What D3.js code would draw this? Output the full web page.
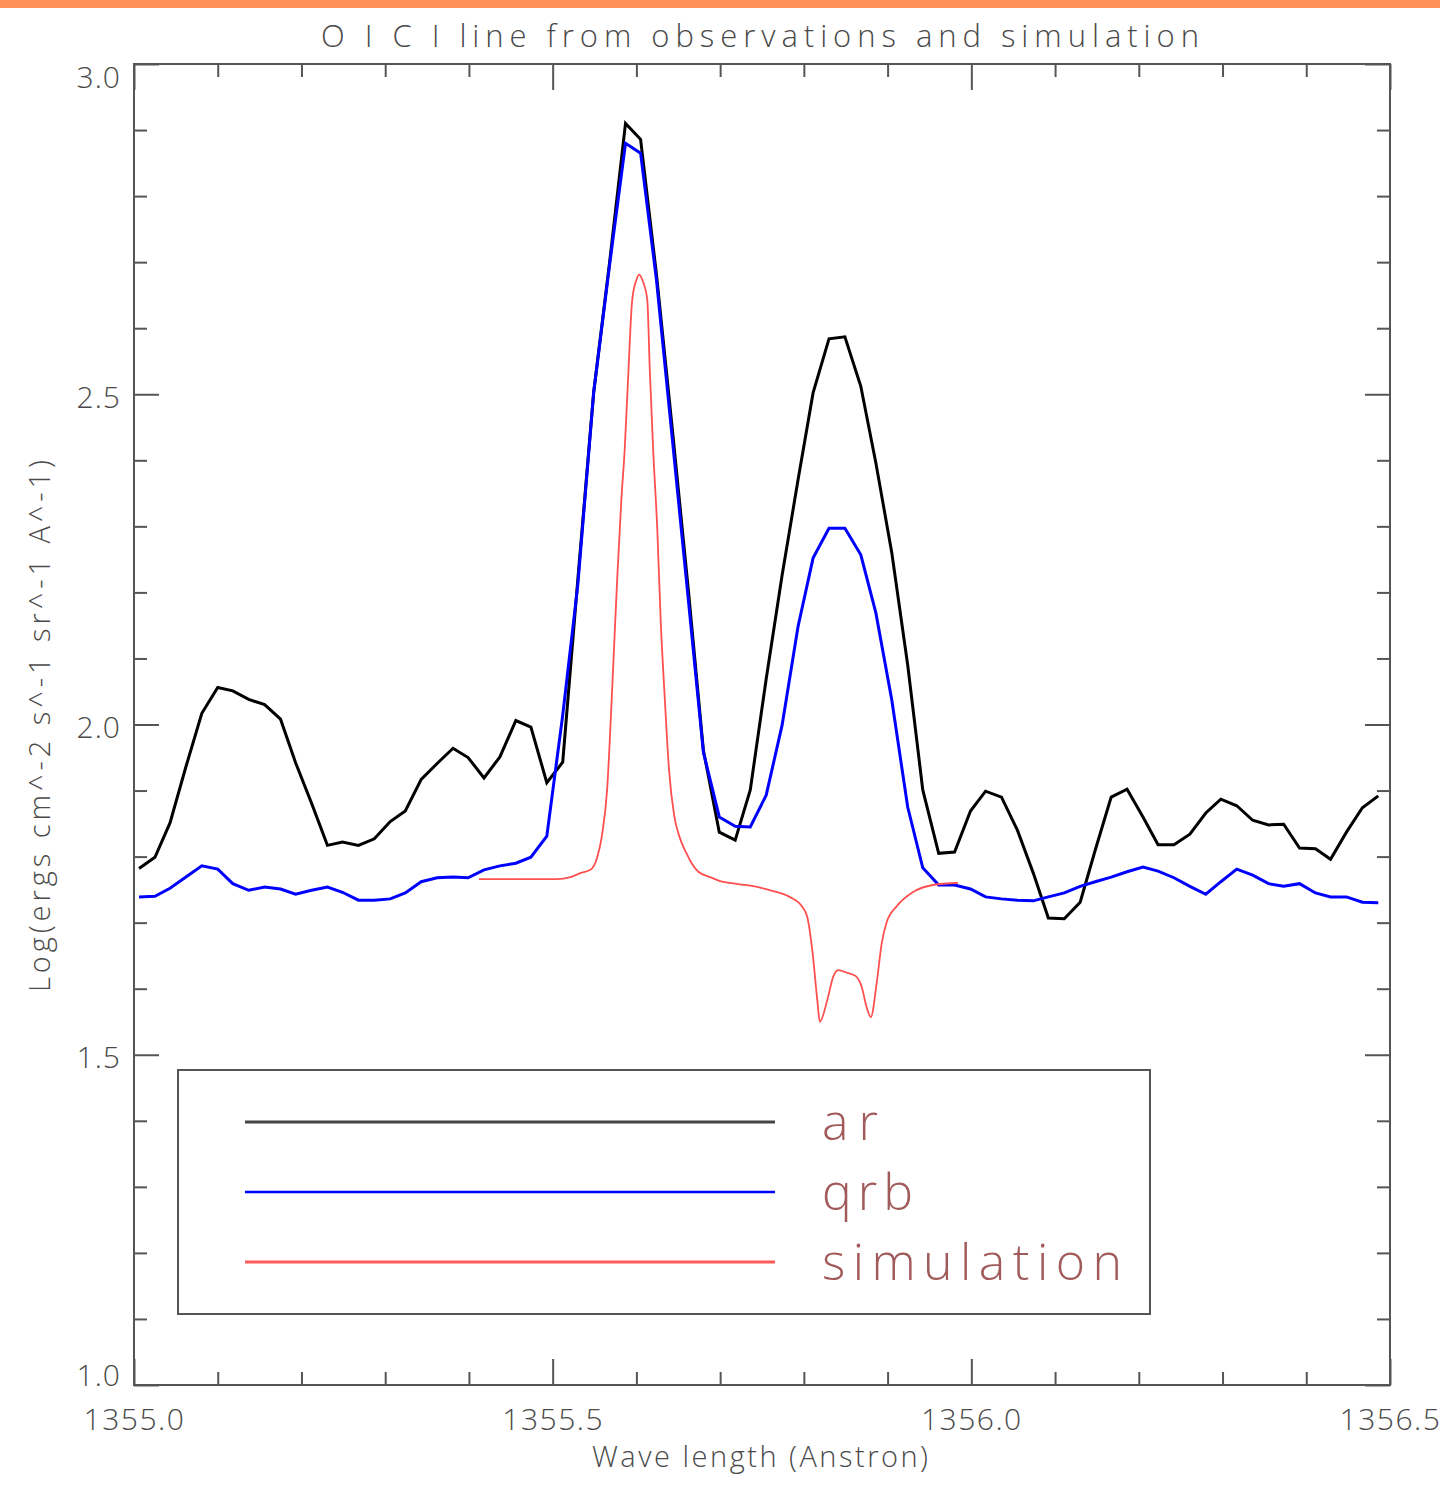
<!DOCTYPE html>
<html>
<head>
<meta charset="utf-8">
<script src="https://cdn.jsdelivr.net/npm/d3@7"></script>
<style>
  body { margin: 0; background: #fff; }
  svg text { font-family: "Open Sans", "DejaVu Sans", sans-serif; font-weight: 300; }
</style>
</head>
<body>
<script>
// wavelength grid of the observed spectra (Angstrom)
var obsWave = [
  1355.006, 1355.025, 1355.043, 1355.062, 1355.081, 1355.100, 1355.118, 1355.137, 1355.156, 1355.175,
  1355.193, 1355.212, 1355.231, 1355.249, 1355.268, 1355.287, 1355.306, 1355.324, 1355.343, 1355.362,
  1355.381, 1355.399, 1355.418, 1355.437, 1355.456, 1355.474, 1355.493, 1355.512, 1355.530, 1355.549,
  1355.568, 1355.587, 1355.605, 1355.624, 1355.643, 1355.662, 1355.680, 1355.699, 1355.718, 1355.736,
  1355.755, 1355.774, 1355.793, 1355.811, 1355.830, 1355.849, 1355.868, 1355.886, 1355.905, 1355.924,
  1355.942, 1355.961, 1355.980, 1355.999, 1356.017, 1356.036, 1356.055, 1356.074, 1356.092, 1356.111,
  1356.130, 1356.148, 1356.167, 1356.186, 1356.205, 1356.223, 1356.242, 1356.261, 1356.280, 1356.298,
  1356.317, 1356.336, 1356.355, 1356.373, 1356.392, 1356.411, 1356.429, 1356.448, 1356.467, 1356.486];

var arValues = [
  1.782, 1.799, 1.851, 1.936, 2.017, 2.056, 2.051, 2.038, 2.030, 2.008,
  1.942, 1.881, 1.817, 1.822, 1.817, 1.827, 1.853, 1.869, 1.917, 1.941,
  1.964, 1.950, 1.919, 1.951, 2.006, 1.996, 1.912, 1.943, 2.219, 2.503,
  2.700, 2.910, 2.886, 2.681, 2.446, 2.204, 1.961, 1.837, 1.825, 1.901,
  2.069, 2.226, 2.370, 2.502, 2.584, 2.587, 2.512, 2.396, 2.260, 2.090,
  1.901, 1.805, 1.807, 1.869, 1.899, 1.890, 1.840, 1.775, 1.707, 1.706,
  1.731, 1.810, 1.890, 1.902, 1.860, 1.818, 1.818, 1.834, 1.866, 1.887,
  1.877, 1.855, 1.848, 1.849, 1.813, 1.812, 1.796, 1.837, 1.874, 1.892];

var qrbValues = [
  1.739, 1.740, 1.752, 1.769, 1.786, 1.781, 1.759, 1.749, 1.754, 1.751,
  1.743, 1.749, 1.754, 1.746, 1.734, 1.734, 1.736, 1.745, 1.762, 1.768,
  1.769, 1.768, 1.780, 1.786, 1.790, 1.799, 1.831, 2.014, 2.211, 2.503,
  2.696, 2.880, 2.865, 2.673, 2.431, 2.189, 1.958, 1.860, 1.846, 1.845,
  1.893, 1.999, 2.148, 2.252, 2.297, 2.297, 2.257, 2.169, 2.037, 1.875,
  1.783, 1.757, 1.757, 1.751, 1.739, 1.736, 1.734, 1.733, 1.739, 1.745,
  1.755, 1.762, 1.769, 1.777, 1.784, 1.778, 1.768, 1.755, 1.743, 1.762,
  1.781, 1.772, 1.759, 1.755, 1.759, 1.745, 1.739, 1.739, 1.731, 1.730];

// simulated profile, own wavelength sampling
var simWave = [
  1355.412, 1355.437, 1355.461, 1355.485, 1355.505, 1355.521, 1355.533, 1355.545, 1355.553, 1355.559,
  1355.565, 1355.571, 1355.577, 1355.582, 1355.586, 1355.590, 1355.595, 1355.600, 1355.603, 1355.608,
  1355.613, 1355.616, 1355.620, 1355.625, 1355.629, 1355.634, 1355.639, 1355.645, 1355.652, 1355.659,
  1355.666, 1355.674, 1355.688, 1355.700, 1355.718, 1355.736, 1355.760, 1355.783, 1355.798, 1355.804,
  1355.810, 1355.816, 1355.819, 1355.828, 1355.835, 1355.841, 1355.852, 1355.862, 1355.869, 1355.875,
  1355.880, 1355.887, 1355.893, 1355.899, 1355.911, 1355.930, 1355.954, 1355.984];
var simValues = [
  1.766, 1.766, 1.766, 1.766, 1.766, 1.769, 1.775, 1.780, 1.798, 1.833,
  1.901, 2.052, 2.219, 2.340, 2.416, 2.522, 2.643, 2.673, 2.681, 2.670,
  2.643, 2.537, 2.416, 2.294, 2.158, 2.037, 1.931, 1.863, 1.828, 1.807,
  1.790, 1.777, 1.769, 1.763, 1.759, 1.756, 1.749, 1.739, 1.724, 1.709,
  1.659, 1.583, 1.550, 1.583, 1.618, 1.628, 1.624, 1.619, 1.603, 1.572,
  1.557, 1.609, 1.669, 1.701, 1.725, 1.746, 1.757, 1.760];

var xMajor = [1355.0, 1355.5, 1356.0, 1356.5];
var xMinor = [1355.1, 1355.2, 1355.3, 1355.4, 1355.6, 1355.7, 1355.8, 1355.9, 1356.1, 1356.2, 1356.3, 1356.4];
var yMajor = [1.0, 1.5, 2.0, 2.5, 3.0];
var yMinor = [1.1, 1.2, 1.3, 1.4, 1.6, 1.7, 1.8, 1.9, 2.1, 2.2, 2.3, 2.4, 2.6, 2.7, 2.8, 2.9];

var legendNames = ["ar", "qrb", "simulation"];
var legendColors = ["#444", "#0000ff", "#ff5a5a"];
var legendTextWidth = [56, 91, 300];

var W = 1440, H = 1494;
var margin = {left: 134, right: 50, top: 64, bottom: 109};
var width = W - margin.left - margin.right;   // 1256
var height = H - margin.top - margin.bottom;  // 1321

var x = d3.scaleLinear().domain([1355.0, 1356.5]).range([0, width]);
var y = d3.scaleLinear().domain([1.0, 3.0]).range([height, 0]);

var axisColor = "#555", textColor = "#4a4a4a";

var svg = d3.select("body").append("svg")
    .attr("width", W).attr("height", H);

// orange strip at the very top
svg.append("rect").attr("x", 0).attr("y", 0).attr("width", W).attr("height", 8).attr("fill", "#ff9057");

svg.append("text")
    .attr("x", 760).attr("y", 47)
    .attr("text-anchor", "middle")
    .attr("textLength", 878).attr("lengthAdjust", "spacing")
    .attr("font-size", 31).attr("fill", textColor)
    .text("O I C I line from observations and simulation");

var g = svg.append("g").attr("transform", "translate(" + margin.left + "," + margin.top + ")");

// axes, ticks inward on all four sides
function styleAxis(sel) {
  sel.select(".domain").remove();
  sel.selectAll("line").attr("stroke", axisColor).attr("stroke-width", 2);
}
g.append("g").attr("transform", "translate(0," + height + ")")
    .call(d3.axisBottom(x).tickValues(xMinor).tickSize(-13).tickFormat("")).call(styleAxis);
g.append("g")
    .call(d3.axisTop(x).tickValues(xMinor).tickSize(-13).tickFormat("")).call(styleAxis);
g.append("g").call(d3.axisLeft(y).tickValues(yMinor).tickSize(-13).tickFormat("")).call(styleAxis);
g.append("g").attr("transform", "translate(" + width + ",0)")
    .call(d3.axisRight(y).tickValues(yMinor).tickSize(-13).tickFormat("")).call(styleAxis);

var xb = g.append("g").attr("transform", "translate(0," + height + ")")
    .call(d3.axisBottom(x).tickValues(xMajor).tickSize(-26).tickFormat(d3.format(".1f")))
    .call(styleAxis);
xb.selectAll("text").attr("y", 45).attr("dy", 0)
    .attr("font-size", 30).attr("fill", textColor).attr("letter-spacing", 1.5)
    .attr("font-family", null);
g.append("g").call(d3.axisTop(x).tickValues(xMajor).tickSize(-26).tickFormat("")).call(styleAxis);

var yl = g.append("g")
    .call(d3.axisLeft(y).tickValues(yMajor).tickSize(-25).tickFormat(d3.format(".1f")))
    .call(styleAxis);
yl.selectAll("text").attr("x", -13).attr("dy", function(d) { return d === 3 ? 23 : (d === 1 ? 0 : 13); })
    .attr("font-size", 30).attr("fill", textColor).attr("letter-spacing", 1)
    .attr("font-family", null);
g.append("g").attr("transform", "translate(" + width + ",0)")
    .call(d3.axisRight(y).tickValues(yMajor).tickSize(-25).tickFormat("")).call(styleAxis);

g.append("rect").attr("width", width).attr("height", height)
    .attr("fill", "none").attr("stroke", axisColor).attr("stroke-width", 2);

// axis titles
svg.append("text")
    .attr("x", 760).attr("y", 1467)
    .attr("text-anchor", "middle")
    .attr("textLength", 336).attr("lengthAdjust", "spacing")
    .attr("font-size", 29).attr("fill", textColor)
    .text("Wave length (Anstron)");
svg.append("text")
    .attr("transform", "translate(50,726) rotate(-90)")
    .attr("text-anchor", "middle")
    .attr("textLength", 532).attr("lengthAdjust", "spacing")
    .attr("font-size", 29).attr("fill", textColor)
    .text("Log(ergs cm^-2 s^-1 sr^-1 A^-1)");

// spectra
var line = d3.line()
    .x(function(d) { return x(d[0]); })
    .y(function(d) { return y(d[1]); });

g.append("path")
    .attr("d", line(d3.zip(obsWave, arValues)))
    .attr("fill", "none").attr("stroke", "#000").attr("stroke-width", 3).attr("stroke-linejoin", "miter");
g.append("path")
    .attr("d", line(d3.zip(obsWave, qrbValues)))
    .attr("fill", "none").attr("stroke", "#0000ff").attr("stroke-width", 3);
g.append("path")
    .attr("d", line.curve(d3.curveMonotoneX)(d3.zip(simWave, simValues)))
    .attr("fill", "none").attr("stroke", "#ff5050").attr("stroke-width", 1.8);

// legend
var legend = svg.append("g");
legend.append("rect")
    .attr("x", 178).attr("y", 1070).attr("width", 972).attr("height", 244)
    .attr("fill", "#fff").attr("stroke", axisColor).attr("stroke-width", 2);
var rows = legend.selectAll(".row").data(legendNames).enter().append("g")
    .attr("transform", function(d, i) { return "translate(0," + (1122 + i * 70) + ")"; });
rows.append("line")
    .attr("x1", 245).attr("x2", 775)
    .attr("stroke", function(d, i) { return legendColors[i]; })
    .attr("stroke-width", function(d, i) { return i === 1 ? 2.5 : 3; });
rows.append("text")
    .attr("x", 822).attr("y", 18)
    .attr("font-size", 50).attr("fill", "#a05a5a")
    .attr("textLength", function(d, i) { return legendTextWidth[i]; })
    .attr("lengthAdjust", "spacing")
    .text(function(d) { return d; });
</script>
</body>
</html>
